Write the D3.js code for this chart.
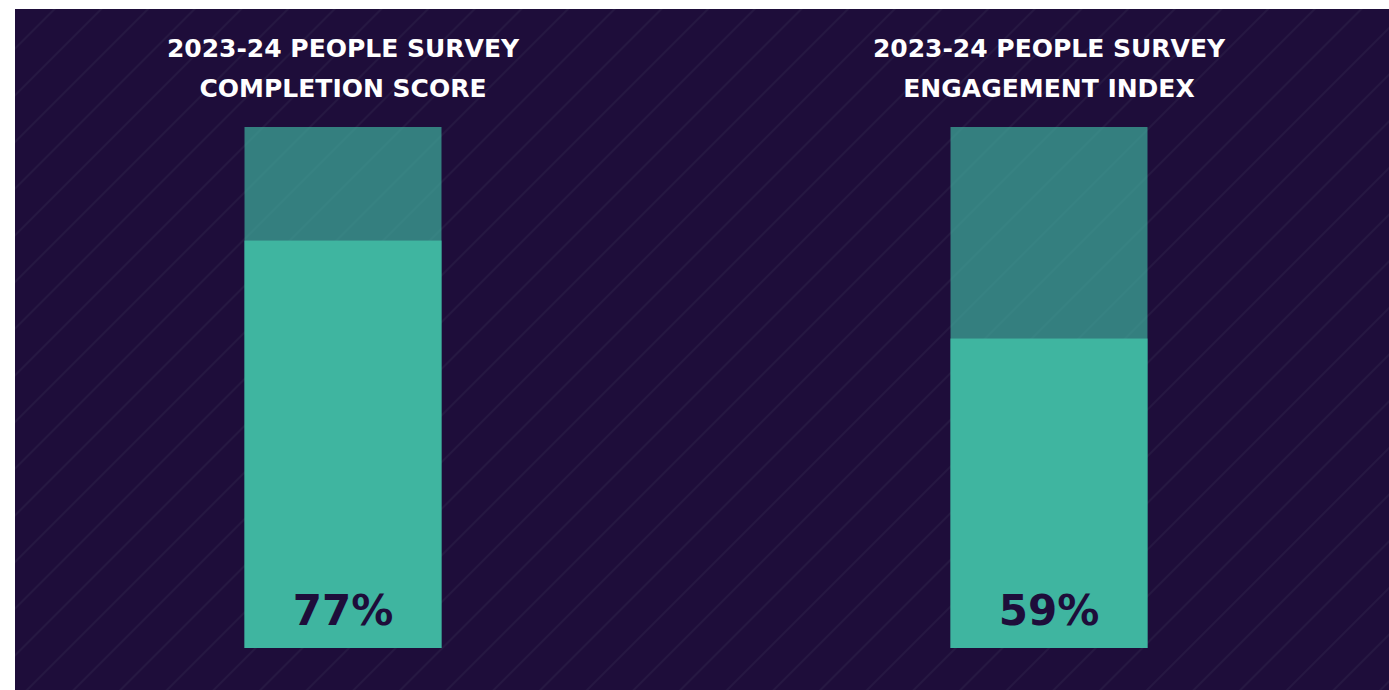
<!DOCTYPE html>
<html>
<head>
<meta charset="utf-8">
<script src="https://cdn.jsdelivr.net/npm/d3@7"></script>
<style>
  body { margin: 0; background: #fff; }
  svg { display: block; }
</style>
</head>
<body>
<svg width="1389" height="690"></svg>
<script>
// chart data
var titles = [
  ["2023-24 PEOPLE SURVEY", "COMPLETION SCORE"],
  ["2023-24 PEOPLE SURVEY", "ENGAGEMENT INDEX"]
];
var labels = ["77%", "59%"];
var fillLevels = [78.2, 59.4];   // bar fill as drawn in the picture (%)

var svg = d3.select("svg"),
    width = +svg.attr("width"),
    height = +svg.attr("height");

var bg = "#1e0d3a",
    teal = "#3fb5a0",
    font = "'DejaVu Sans', Verdana, sans-serif";

// faint diagonal stripes on the background
var defs = svg.append("defs");
var pat = defs.append("pattern")
    .attr("id", "stripes")
    .attr("patternUnits", "userSpaceOnUse")
    .attr("width", 33).attr("height", 33)
    .attr("patternTransform", "rotate(45)");
pat.append("rect").attr("width", 33).attr("height", 33).attr("fill", bg);
pat.append("line")
    .attr("x1", 12).attr("x2", 12).attr("y1", 0).attr("y2", 33)
    .attr("stroke", "#281a44").attr("stroke-width", 1.6);

svg.append("rect")
    .attr("x", 15).attr("y", 9)
    .attr("width", width - 15).attr("height", height - 9)
    .attr("fill", "url(#stripes)");

var x = d3.scaleBand()
    .domain(d3.range(labels.length))
    .range([-10, 1402]);

var y = d3.scaleLinear().domain([0, 100]).range([648, 127]);

var barW = 197;

var g = svg.selectAll("g.panel")
  .data(labels)
  .enter().append("g")
    .attr("class", "panel")
    .attr("transform", function(d, i) { return "translate(" + (x(i) + x.bandwidth() / 2) + ",0)"; });

// full track (remainder)
g.append("rect")
    .attr("x", -barW / 2)
    .attr("y", y(100))
    .attr("width", barW)
    .attr("height", y(0) - y(100))
    .attr("fill", teal)
    .attr("fill-opacity", 0.68);

// filled part
g.append("rect")
    .attr("x", -barW / 2)
    .attr("y", function(d, i) { return y(fillLevels[i]); })
    .attr("width", barW)
    .attr("height", function(d, i) { return y(0) - y(fillLevels[i]); })
    .attr("fill", teal);

g.append("text")
    .attr("y", 625)
    .attr("text-anchor", "middle")
    .attr("font-family", font)
    .attr("font-weight", "bold")
    .attr("font-size", 42)
    .attr("fill", bg)
    .text(function(d) { return d; });

g.each(function(d, i) {
  var t = d3.select(this).append("text")
      .attr("text-anchor", "middle")
      .attr("font-family", font)
      .attr("font-weight", "bold")
      .attr("font-size", 25)
      .attr("fill", "#fff");
  titles[i].forEach(function(line, k) {
    t.append("tspan").attr("x", 0).attr("y", 57 + k * 40).text(line);
  });
});
</script>
</body>
</html>
